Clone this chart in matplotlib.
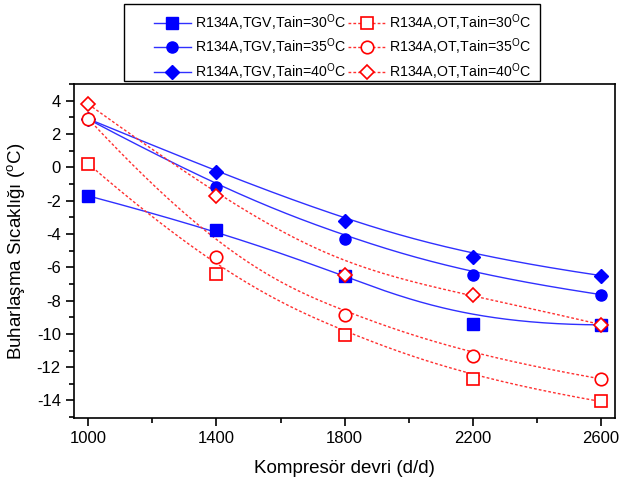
import numpy as np
import matplotlib
matplotlib.use('Agg')
import matplotlib.pyplot as plt
from matplotlib.ticker import MultipleLocator, FixedLocator
from matplotlib.patches import Rectangle

plt.rcParams['font.family'] = ['Liberation Sans', 'DejaVu Sans']
plt.rcParams['mathtext.fontset'] = 'custom'
plt.rcParams['mathtext.rm'] = 'Liberation Sans'
plt.rcParams['axes.unicode_minus'] = False

rpm = [1000, 1400, 1800, 2200, 2600]

tgv_30 = [-1.72, -3.76, -6.5, -9.42, -9.46]
tgv_35 = [2.88, -1.2, -4.28, -6.48, -7.64]
tgv_40 = [2.9, -0.26, -3.24, -5.36, -6.5]
ot_30 = [0.2, -6.42, -10.05, -12.7, -14.06]
ot_35 = [2.9, -5.36, -8.85, -11.34, -12.7]
ot_40 = [3.78, -1.72, -6.48, -7.64, -9.44]

labels_tgv = ['R134A,TGV,Tain=30$^{\\rm O}$C', 'R134A,TGV,Tain=35$^{\\rm O}$C',
              'R134A,TGV,Tain=40$^{\\rm O}$C']
labels_ot = ['R134A,OT,Tain=30$^{\\rm O}$C', 'R134A,OT,Tain=35$^{\\rm O}$C',
             'R134A,OT,Tain=40$^{\\rm O}$C']


def bspline(px, py, n=200):
	# clamped cubic b-spline using the data points as control points
	p = np.column_stack([px, py]).astype(float)
	k = 3
	m = len(p)
	knots = np.concatenate([[0] * k, np.linspace(0, 1, m - k + 1), [1] * k])
	t = np.linspace(0, 1 - 1e-9, n)
	out = []
	for tt in t:
		s = np.searchsorted(knots, tt, side='right') - 1
		d = [p[j + s - k].copy() for j in range(k + 1)]
		for r in range(1, k + 1):
			for j in range(k, r - 1, -1):
				i = j + s - k
				a = (tt - knots[i]) / (knots[i + k + 1 - r] - knots[i])
				d[j] = (1 - a) * d[j - 1] + a * d[j]
		out.append(d[k])
	out.append(p[-1])
	out = np.array(out)
	return out[:, 0], out[:, 1]


fig = plt.figure(figsize=(6.2, 4.82), dpi=100)
ax = fig.add_axes([0.1194, 0.1328, 0.8726, 0.693])

dash = (0, (2, 1.5))
handles = []
for ys, mk, lab in zip([tgv_30, tgv_35, tgv_40], ['s', 'o', 'D'], labels_tgv):
	cx, cy = bspline(rpm, ys)
	ax.plot(cx, cy, color='#3030ff', linewidth=1.0, zorder=2)
	ax.plot(rpm, ys, linestyle='none', marker=mk, color='blue',
		markersize=8 if mk != 'D' else 7, zorder=4)
	h, = ax.plot([], [], color='#3030ff', linewidth=1.0, marker=mk,
		markerfacecolor='blue', markeredgecolor='blue',
		markersize=8 if mk != 'D' else 7, label=lab)
	handles.append(h)

for ys, mk, lab in zip([ot_30, ot_35, ot_40], ['s', 'o', 'D'], labels_ot):
	cx, cy = bspline(rpm, ys)
	ax.plot(cx, cy, color='#ff3030', linewidth=1.0, linestyle=dash, zorder=3)
	ax.plot(rpm, ys, linestyle='none', marker=mk, markerfacecolor='white',
		markeredgecolor='red', markeredgewidth=1.2,
		markersize=9 if mk != 'D' else 7, zorder=5)
	h, = ax.plot([], [], color='#ff3030', linewidth=1.0, linestyle=dash,
		marker=mk, markerfacecolor='white', markeredgecolor='red',
		markeredgewidth=1.2, markersize=9 if mk != 'D' else 7, label=lab)
	handles.append(h)

ax.set_xlim(955, 2645)
ax.set_ylim(-15.05, 5.0)
ax.xaxis.set_major_locator(FixedLocator(rpm))
ax.xaxis.set_minor_locator(FixedLocator([1200, 1600, 2000, 2400]))
ax.yaxis.set_major_locator(MultipleLocator(2))
ax.yaxis.set_minor_locator(MultipleLocator(1))
ax.tick_params(which='both', direction='out', labelsize=12, width=1.2, colors='black')
ax.tick_params(which='major', length=6)
ax.tick_params(which='minor', length=3.5)
for sp in ax.spines.values():
	sp.set_linewidth(1.2)

ax.set_xlabel('Kompresör devri (d/d)', fontsize=13.5, labelpad=10)
ax.set_ylabel('Buharlaşma Sıcaklığı ($^{\\rm o}$C)', fontsize=13.5, labelpad=6)

# legend box above the axes
fig.patches.append(Rectangle((124 / 620, 1 - 81 / 482), 416 / 620, 77 / 482,
	transform=fig.transFigure, facecolor='white', edgecolor='black',
	linewidth=1.0, zorder=0))
leg = fig.legend(handles=handles, ncol=2, loc='upper left',
	bbox_to_anchor=(154 / 620, 1 - 12 / 482),
	fontsize=10.2, frameon=False,
	handlelength=2.6, handletextpad=0.28, columnspacing=0.15,
	labelspacing=0.3, borderaxespad=0, borderpad=0)

fig.savefig('out.png', dpi=100)
